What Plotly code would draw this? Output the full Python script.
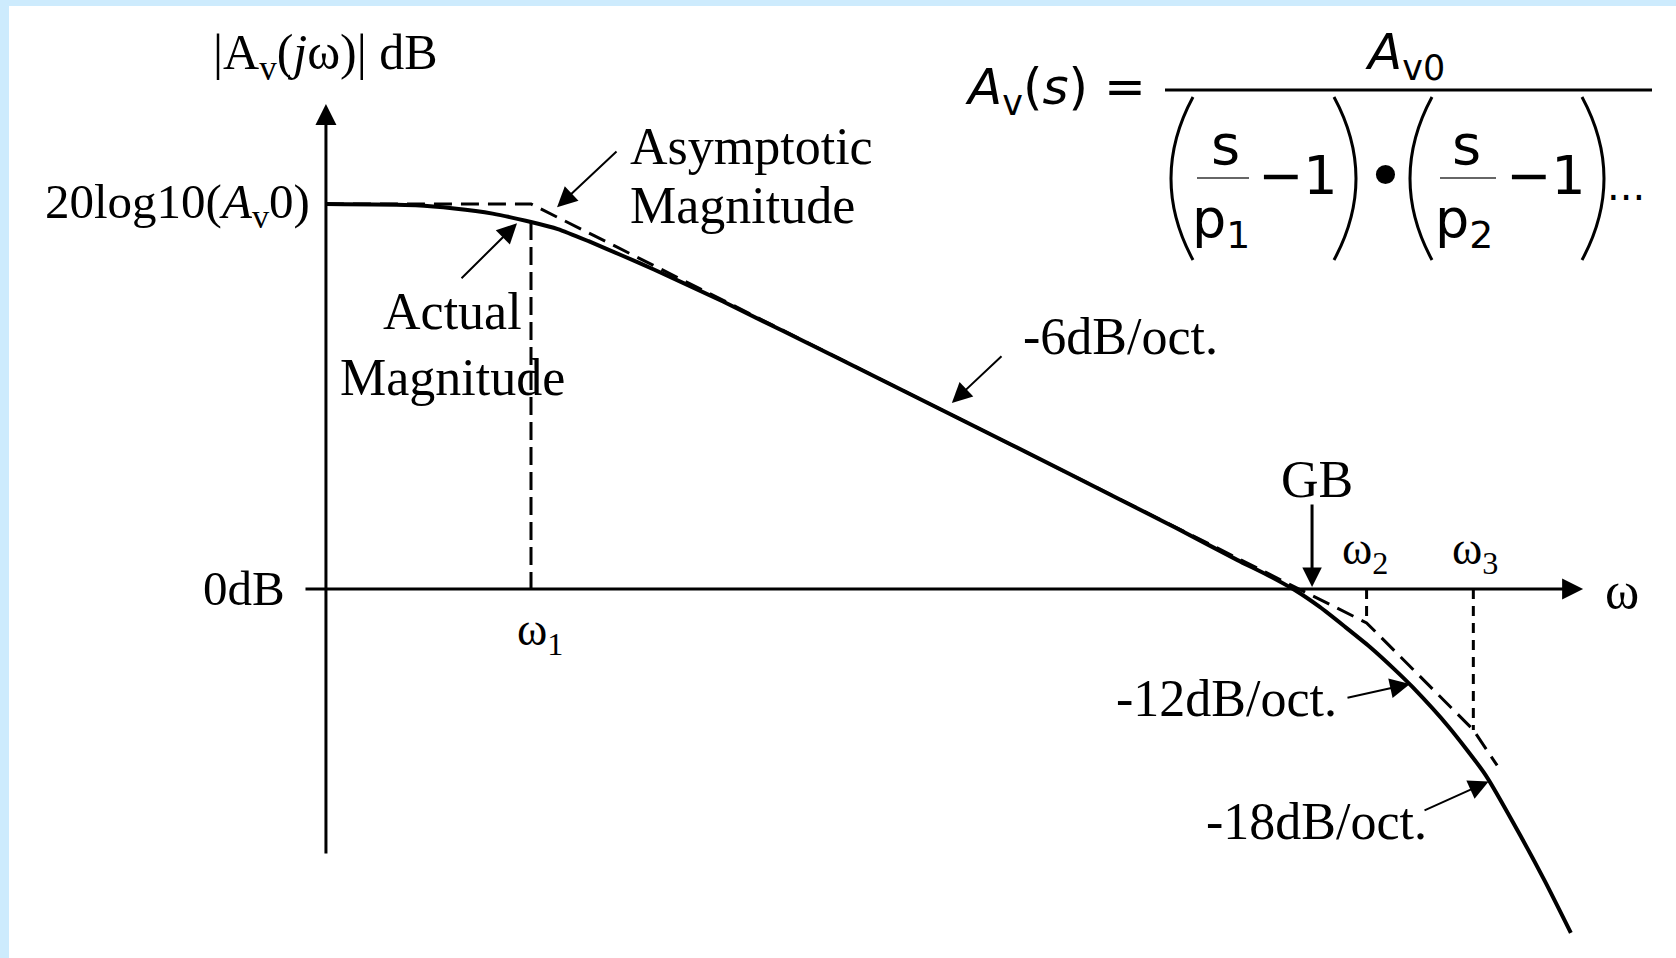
import plotly.graph_objects as go

# ---------------- data: x in octaves above the first pole, y in dB ----------------
AV0_DB = 60.0                    # 20log10(Av0)
W1_OCT = 0.0                     # first pole  ω1
W2_OCT = 10.88                   # second pole ω2
W3_OCT = 12.27                   # third pole  ω3
GB_OCT = 10.17                   # gain-bandwidth marker

# actual magnitude response
actual_oct = [-2.67, -1.5, -1.0, -0.5, 0.0, 0.35, 0.75, 1.2, 1.6, 2.5, 4.0, 5.5, 7.0,
              8.4, 9.2, 9.62, 9.95, 10.27, 10.6, 10.92, 11.25, 11.48, 11.95, 12.43,
              12.9, 13.2, 13.54]
actual_db = [60.0, 59.8, 59.3, 58.5, 57.2, 56.1, 54.2, 51.9, 49.8, 44.8, 35.95, 27.0, 18.0,
             9.5, 4.5, 2.0, -0.2, -2.8, -5.9, -9.0, -12.6, -15.3, -21.5, -29.0,
             -38.8, -45.5, -53.6]

# asymptotic (straight-line) magnitude: 0, -6, -12, -18 dB/oct
asym_oct = [-2.67, 0.0, 10.88, 12.27, 12.58]
asym_db = [60.0, 60.0, -5.28, -21.96, -27.5]

# axes extents
YAXIS_OCT = -2.67
YAXIS_DB = [-41.45, 75.6]
XAXIS_OCT = [-2.956, 13.70]

# ---------------- figure geometry ----------------
W, H = 1676, 958
ML, MT = 9, 6
X_RANGE = [-6.797, 14.909]
Y_RANGE = [-57.51, 90.86]

SERIF = "Liberation Serif"
SANS = "DejaVu Sans"
BLACK = "#000000"

fig = go.Figure()

# dashed asymptote underneath the actual curve
fig.add_trace(go.Scatter(x=asym_oct, y=asym_db, mode="lines",
                         line=dict(color=BLACK, width=3, dash="18px,9px"),
                         hoverinfo="skip", showlegend=False))


def asym_at(o):
    """Asymptote level at o octaves, read along the straight-line segments."""
    for i in range(len(asym_oct) - 1):
        if asym_oct[i] <= o <= asym_oct[i + 1]:
            t = (o - asym_oct[i]) / (asym_oct[i + 1] - asym_oct[i])
            return asym_db[i] + t * (asym_db[i + 1] - asym_db[i])
    return asym_db[-1]


# ω1 / ω2 / ω3 drop lines
fig.add_trace(go.Scatter(x=[W1_OCT, W1_OCT], y=[AV0_DB - 2.8, 0], mode="lines",
                         line=dict(color=BLACK, width=3, dash="18px,7px"),
                         hoverinfo="skip", showlegend=False))
for w in (W2_OCT, W3_OCT):
    fig.add_trace(go.Scatter(x=[w, w], y=[0, asym_at(w)], mode="lines",
                             line=dict(color=BLACK, width=3, dash="10px,7px"),
                             hoverinfo="skip", showlegend=False))

# actual magnitude
fig.add_trace(go.Scatter(x=actual_oct, y=actual_db, mode="lines",
                         line=dict(color=BLACK, width=4, shape="spline", smoothing=0.6),
                         hoverinfo="skip", showlegend=False))

annotations = []


def arrow(tip, tail, width=3, size=1.4):
    annotations.append(dict(x=tip[0], y=tip[1], ax=tail[0], ay=tail[1],
                            xref="x", yref="y", axref="x", ayref="y",
                            text="", showarrow=True, arrowhead=2,
                            arrowwidth=width, arrowsize=size, arrowcolor=BLACK,
                            standoff=0, startstandoff=0))


# axes with arrow heads
arrow((YAXIS_OCT, YAXIS_DB[1]), (YAXIS_OCT, YAXIS_DB[0]), width=3, size=1.4)
arrow((XAXIS_OCT[1], 0), (XAXIS_OCT[0], 0), width=3, size=1.4)

# pointers
arrow((0.339, 59.5), (1.133, 68.4), width=2, size=2.0)        # asymptotic
arrow((-0.182, 57.0), (-0.924, 48.2), width=2, size=2.0)      # actual
arrow((5.48, 29.0), (6.146, 36.5), width=2, size=2.0)         # -6 dB/oct
arrow((11.445, -14.8), (10.612, -17.0), width=2, size=2.0)    # -12 dB/oct
arrow((12.47, -30.0), (11.615, -34.6), width=2, size=2.0)     # -18 dB/oct
arrow((GB_OCT, 0.3), (GB_OCT, 13.4), width=3, size=1.3)       # GB


def label(text, x, y, size=52, xanchor="center", font=SERIF):
    annotations.append(dict(x=x, y=y, xref="x", yref="y", text=text,
                            showarrow=False, xanchor=xanchor, yanchor="middle",
                            font=dict(family=font, size=size, color=BLACK)))


label("|A<sub>v</sub>(<i>j</i>ω)| dB", YAXIS_OCT, 83.0, size=50)
label("20log10(<i>A</i><sub>v</sub>0)", -2.85, AV0_DB, size=49, xanchor="right")
label("0dB", -3.18, 0, size=49, xanchor="right")
label("ω", 14.21, -0.3, size=52)
label("ω<sub>1</sub>", -0.21, -6.8, size=46, xanchor="left")
label("ω<sub>2</sub>", 10.53, 5.8, size=46, xanchor="left")
label("ω<sub>3</sub>", 11.97, 5.8, size=46, xanchor="left")
label("GB", 10.23, 17.0, size=52)
label("-6dB/oct.", 7.67, 39.4, size=52)
label("Asymptotic", 1.26, 69.0, size=52, xanchor="left")
label("Magnitude", 1.26, 59.7, size=52, xanchor="left")
label("Actual", -1.02, 43.2, size=52)
label("Magnitude", -1.02, 32.9, size=52)
label("-12dB/oct.", 9.05, -17.0, size=52)
label("-18dB/oct.", 10.23, -36.3, size=52)


# ---------------- transfer-function formula (paper coordinates) ----------------
def px(x):
    return (x - ML) / (W - ML)


def py(y):
    return 1 - (y - MT) / (H - MT)


def ftext(text, x, y, size=50, xanchor="center"):
    annotations.append(dict(x=px(x), y=py(y), xref="paper", yref="paper", text=text,
                            showarrow=False, xanchor=xanchor, yanchor="middle",
                            font=dict(family=SANS, size=size, color=BLACK)))


ftext("<i>A</i><sub>v</sub>(<i>s</i>) =", 1055, 90, size=50)
ftext("<i>A</i><sub>v0</sub>", 1405, 55, size=50)
ftext("s", 1225, 144, size=56)
ftext("p<sub>1</sub>", 1221, 222, size=54)
ftext("−1", 1298, 175, size=54)
ftext("•", 1385, 176, size=66)
ftext("s", 1466, 144, size=56)
ftext("p<sub>2</sub>", 1464, 222, size=54)
ftext("−1", 1546, 175, size=54)
ftext("...", 1626, 186, size=40)

shapes = []
# main fraction bar
shapes.append(dict(type="line", xref="paper", yref="paper",
                   x0=px(1165), x1=px(1652), y0=py(90), y1=py(90),
                   line=dict(color=BLACK, width=3)))
# inner s/p bars
for x0, x1 in ((1197, 1249), (1440, 1496)):
    shapes.append(dict(type="line", xref="paper", yref="paper",
                       x0=px(x0), x1=px(x1), y0=py(178), y1=py(178),
                       line=dict(color="#666666", width=2)))


# tall parentheses drawn as curves
def paren(x_end, x_mid, top=97, bot=260):
    ctrl = 2 * x_mid - x_end
    mid = (top + bot) / 2
    path = (f"M{px(x_end)},{py(top)} Q{px(ctrl)},{py(mid)} {px(x_end)},{py(bot)}")
    shapes.append(dict(type="path", xref="paper", yref="paper", path=path,
                       line=dict(color=BLACK, width=3)))


paren(1193, 1171)
paren(1334, 1356)
paren(1432, 1410)
paren(1582, 1604)

fig.update_layout(
    width=W, height=H,
    margin=dict(l=ML, r=0, t=MT, b=0, pad=0),
    paper_bgcolor="#cdebfd",
    plot_bgcolor="#ffffff",
    xaxis=dict(range=X_RANGE, visible=False, fixedrange=True),
    yaxis=dict(range=Y_RANGE, visible=False, fixedrange=True),
    annotations=annotations,
    shapes=shapes,
    showlegend=False,
)

fig.write_html("out.html")
